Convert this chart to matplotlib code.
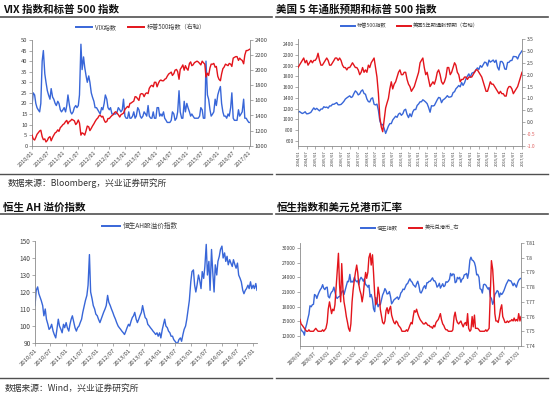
import numpy as np
import pandas as pd
import matplotlib
matplotlib.use('Agg')
import matplotlib.pyplot as plt
import matplotlib.dates as mdates
from matplotlib.lines import Line2D
from matplotlib.ticker import FuncFormatter, MultipleLocator

plt.rcParams['font.family'] = ['Noto Sans CJK SC', 'DejaVu Sans']
plt.rcParams['axes.unicode_minus'] = False

BLUE = '#3866d8'
RED = '#e3141b'
TXT = '#404040'

# ---------------- Panel A: VIX & S&P 500 (semimonthly, 2010/01 - 2017/01) ----------------
vix = [
    19, 25, 24, 20, 18, 17, 16, 20, 40, 45, 34, 30, 26, 24, 22, 27, 23, 22, 20, 19, 21, 20, 17, 16,   # 2010
    17, 18, 16, 19, 24, 20, 16, 15, 16, 18, 19, 18, 19, 24, 48, 36, 42, 37, 33, 30, 33, 30, 25, 23,   # 2011
    21, 18, 18, 17, 16, 15, 18, 17, 20, 24, 22, 18, 17, 18, 15, 15, 15, 15, 16, 18, 17, 16, 17, 22,   # 2012
    14, 13, 13, 16, 13, 13, 14, 16, 13, 14, 18, 17, 14, 13, 14, 16, 15, 14, 19, 14, 13, 13, 16, 13,   # 2013
    13, 18, 18, 14, 15, 14, 16, 13, 12, 11, 11, 11, 12, 16, 15, 12, 13, 16, 26, 16, 13, 13, 21, 16,   # 2014
    20, 18, 16, 14, 15, 14, 13, 13, 13, 13, 14, 18, 17, 13, 13, 40, 24, 22, 17, 14, 15, 16, 22, 19,   # 2015
    24, 26, 28, 20, 16, 14, 14, 13, 15, 14, 18, 25, 13, 12, 12, 12, 17, 14, 15, 16, 22, 13, 13, 12,   # 2016
    11, 11,                                                                                           # 2017
]
spx_a = [
    1140, 1090, 1075, 1110, 1150, 1170, 1195, 1205, 1120, 1080, 1090, 1050, 1070, 1105, 1120, 1065, 1110, 1140, 1170, 1180, 1210, 1190, 1240, 1255,
    1280, 1290, 1320, 1335, 1290, 1320, 1330, 1350, 1340, 1330, 1280, 1300, 1340, 1300, 1140, 1170, 1160, 1140, 1200, 1260, 1250, 1200, 1230, 1260,
    1290, 1320, 1350, 1365, 1395, 1405, 1380, 1390, 1340, 1310, 1320, 1360, 1360, 1380, 1400, 1410, 1440, 1450, 1430, 1410, 1380, 1410, 1420, 1430,
    1480, 1500, 1520, 1505, 1560, 1565, 1580, 1590, 1650, 1645, 1620, 1600, 1680, 1690, 1685, 1650, 1690, 1700, 1690, 1760, 1790, 1800, 1780, 1840,
    1840, 1780, 1830, 1860, 1870, 1860, 1860, 1880, 1890, 1920, 1950, 1960, 1975, 1930, 1955, 2000, 2010, 1980, 1880, 2010, 2040, 2070, 2000, 2060,
    2020, 2000, 2090, 2110, 2060, 2070, 2100, 2110, 2120, 2110, 2090, 2070, 2120, 2100, 2080, 1910, 1960, 1930, 2030, 2080, 2080, 2090, 2040, 2050,
    1920, 1880, 1860, 1950, 2020, 2040, 2080, 2070, 2060, 2090, 2080, 2050, 2160, 2170, 2180, 2180, 2130, 2160, 2140, 2130, 2085, 2200, 2260, 2260,
    2270, 2280,
]

# ---------------- Panel B: S&P 500 & US 5Y breakeven (monthly, 2004/01 - 2017/01) ----------------
spx_b = [
    1130, 1145, 1125, 1107, 1120, 1140, 1101, 1104, 1115, 1130, 1174, 1212,
    1181, 1204, 1180, 1157, 1191, 1191, 1234, 1220, 1228, 1207, 1249, 1248,
    1280, 1280, 1295, 1311, 1270, 1270, 1277, 1304, 1336, 1378, 1400, 1418,
    1438, 1407, 1421, 1482, 1530, 1503, 1455, 1474, 1527, 1549, 1481, 1468,
    1378, 1330, 1323, 1386, 1400, 1280, 1267, 1283, 1165, 969, 896, 903,
    826, 735, 798, 873, 919, 919, 987, 1021, 1057, 1036, 1096, 1115,
    1074, 1104, 1169, 1187, 1089, 1031, 1102, 1049, 1141, 1183, 1181, 1258,
    1286, 1327, 1326, 1364, 1345, 1321, 1292, 1219, 1131, 1253, 1247, 1258,
    1312, 1366, 1408, 1398, 1310, 1362, 1379, 1406, 1441, 1412, 1416, 1426,
    1498, 1515, 1569, 1598, 1631, 1606, 1686, 1633, 1682, 1757, 1806, 1848,
    1783, 1859, 1872, 1884, 1924, 1960, 1931, 2003, 1972, 2018, 2068, 2059,
    1995, 2105, 2068, 2086, 2107, 2063, 2104, 1972, 1920, 2079, 2080, 2044,
    1940, 1932, 2060, 2065, 2097, 2099, 2174, 2171, 2168, 2126, 2199, 2239,
    2279,
]
bei5 = [
    2.3, 2.4, 2.5, 2.6, 2.7, 2.5, 2.6, 2.4, 2.5, 2.6, 2.5, 2.6,
    2.6, 2.7, 2.9, 2.6, 2.4, 2.4, 2.5, 2.6, 2.7, 2.6, 2.4, 2.4,
    2.5, 2.6, 2.7, 2.7, 2.6, 2.7, 2.6, 2.4, 2.3, 2.3, 2.2, 2.3,
    2.3, 2.4, 2.5, 2.4, 2.3, 2.3, 2.2, 2.0, 2.1, 2.3, 2.1, 2.2,
    2.1, 2.4, 2.3, 2.5, 2.6, 2.7, 2.3, 1.9, 1.2, 0.2, -0.2, -0.4,
    0.1, 0.6, 0.8, 1.0, 1.4, 1.7, 1.4, 1.6, 1.7, 1.9, 2.1, 2.2,
    2.0, 2.0, 2.1, 2.1, 1.8, 1.6, 1.5, 1.3, 1.4, 1.5, 1.7, 1.9,
    2.1, 2.5, 2.6, 2.7, 2.3, 2.0, 2.1, 1.8, 1.5, 1.6, 1.7, 1.6,
    1.8, 2.1, 2.2, 2.0, 1.7, 1.6, 1.7, 1.9, 2.3, 2.3, 2.0, 2.1,
    2.3, 2.5, 2.4, 2.1, 2.0, 1.7, 1.8, 1.8, 1.9, 1.9, 1.8, 1.9,
    1.9, 1.9, 2.0, 2.1, 2.2, 2.2, 2.1, 2.0, 1.9, 1.7, 1.5, 1.3,
    1.3, 1.5, 1.7, 1.6, 1.6, 1.5, 1.4, 1.3, 1.2, 1.3, 1.2, 1.2,
    1.1, 1.1, 1.4, 1.5, 1.5, 1.4, 1.2, 1.3, 1.4, 1.5, 1.7, 1.9,
    2.1,
]

# ---------------- Panel C: Hang Seng AH premium (semimonthly, 2010/01 - 2017/02) ----------------
ah_premium = [
    112, 121, 123, 119, 117, 115, 112, 106, 110, 104, 101, 98, 99, 101, 97, 95, 93, 98, 104, 100, 98, 96, 101, 99,     # 2010
    102, 99, 97, 101, 104, 106, 102, 99, 97, 99, 100, 102, 104, 108, 112, 115, 118, 124, 142, 120, 116, 112, 110, 107, # 2011
    106, 104, 102, 104, 106, 108, 110, 112, 118, 114, 112, 110, 108, 106, 104, 102, 100, 99, 98, 97, 96, 95, 97, 99,   # 2012
    101, 100, 103, 105, 106, 108, 104, 102, 104, 106, 108, 112, 108, 105, 104, 101, 100, 99, 98, 97, 96, 95, 96, 94,   # 2013
    96, 93, 98, 101, 104, 100, 99, 97, 96, 94, 94, 92, 91, 90, 90, 92, 93, 91, 95, 98, 100, 104, 110, 115,            # 2014
    126, 132, 133, 124, 120, 124, 130, 127, 122, 132, 128, 135, 148, 130, 138, 121, 145, 132, 120, 136, 130, 138, 141, 145,  # 2015
    147, 140, 143, 138, 141, 136, 139, 137, 135, 139, 136, 134, 137, 130, 128, 126, 121, 119, 121, 122, 124, 122, 126, 122,  # 2016
    124, 122, 125, 121,                                                                                                # 2017
]

# ---------------- Panel D: Hang Seng index & USD/HKD (semimonthly, 2009/01 - 2017/02) ----------------
hsi = [
    14000, 13300, 13000, 12800, 12200, 13600, 14500, 15500, 16500, 18200, 18000, 18400, 18500, 20500, 20300, 19700, 20500, 21000, 21500, 21800, 22500, 21800, 21500, 21900,
    22000, 20100, 19800, 20600, 21000, 21200, 22000, 21100, 20000, 19700, 20000, 20100, 20300, 21000, 21300, 20500, 21500, 22400, 23200, 23100, 24600, 23000, 23200, 23000,
    24000, 23400, 23100, 23300, 22500, 23500, 24000, 23700, 23200, 23700, 22500, 22400, 22000, 22400, 20000, 20500, 19500, 17600, 17000, 19900, 19000, 18000, 18500, 18400,
    19500, 20400, 21000, 21700, 21300, 20600, 20700, 21100, 20000, 18600, 19000, 19400, 19600, 19800, 20000, 19500, 20000, 20800, 21100, 21600, 21500, 22000, 22600, 22700,
    23300, 23700, 23200, 23000, 22500, 22300, 22000, 22700, 23200, 22400, 21000, 20800, 21300, 21900, 22300, 21700, 22900, 22900, 23200, 23200, 23600, 23900, 23300, 23300,
    22800, 22000, 22300, 22800, 21800, 22200, 22700, 22100, 22300, 23100, 23000, 23200, 23600, 24800, 24300, 24700, 24600, 22900, 23100, 24000, 23700, 24000, 23000, 23600,
    23800, 24500, 24600, 24800, 23800, 24900, 27500, 28100, 27500, 27400, 27000, 26200, 24500, 24600, 24000, 21700, 21500, 20800, 22500, 22600, 22400, 22000, 21600, 21900,
    20000, 19700, 18500, 19100, 20500, 20800, 21300, 21100, 20000, 20800, 20500, 20800, 21300, 21900, 22600, 23000, 23500, 23300, 23300, 22900, 22300, 22800, 22400, 22000,
    22900, 23400, 23700, 23800,
]
usdhkd = [
    7.758, 7.755, 7.754, 7.753, 7.752, 7.751, 7.750, 7.750, 7.751, 7.750, 7.750, 7.750, 7.750, 7.751, 7.752, 7.751, 7.750, 7.750, 7.750, 7.750, 7.751, 7.750, 7.751, 7.752,
    7.756, 7.765, 7.770, 7.766, 7.762, 7.765, 7.764, 7.768, 7.780, 7.790, 7.803, 7.782, 7.770, 7.796, 7.778, 7.770, 7.765, 7.760, 7.756, 7.752, 7.750, 7.755, 7.770, 7.778,
    7.785, 7.790, 7.795, 7.790, 7.782, 7.778, 7.775, 7.770, 7.775, 7.783, 7.790, 7.786, 7.790, 7.800, 7.803, 7.795, 7.802, 7.790, 7.775, 7.768, 7.770, 7.780, 7.775, 7.765,
    7.760, 7.756, 7.755, 7.757, 7.764, 7.766, 7.762, 7.765, 7.767, 7.761, 7.758, 7.756, 7.755, 7.757, 7.756, 7.754, 7.753, 7.752, 7.750, 7.750, 7.750, 7.750, 7.751, 7.750,
    7.752, 7.754, 7.756, 7.755, 7.760, 7.764, 7.763, 7.765, 7.762, 7.760, 7.758, 7.757, 7.756, 7.755, 7.755, 7.756, 7.755, 7.754, 7.754, 7.753, 7.753, 7.752, 7.754, 7.753,
    7.756, 7.757, 7.758, 7.760, 7.762, 7.758, 7.755, 7.754, 7.752, 7.751, 7.751, 7.750, 7.750, 7.750, 7.750, 7.751, 7.760, 7.763, 7.758, 7.756, 7.755, 7.756, 7.757, 7.755,
    7.753, 7.755, 7.756, 7.754, 7.762, 7.752, 7.750, 7.751, 7.760, 7.753, 7.761, 7.752, 7.752, 7.752, 7.751, 7.750, 7.750, 7.750, 7.750, 7.750, 7.751, 7.750, 7.751, 7.752,
    7.778, 7.798, 7.792, 7.780, 7.762, 7.757, 7.757, 7.756, 7.760, 7.765, 7.768, 7.760, 7.758, 7.756, 7.756, 7.757, 7.756, 7.757, 7.757, 7.758, 7.757, 7.759, 7.757, 7.758,
    7.757, 7.762, 7.757, 7.760,
]

dates_a = pd.date_range('2010-01-01', periods=len(vix), freq='SMS')
dates_b = pd.date_range('2004-01-01', periods=len(spx_b), freq='MS')
dates_c = pd.date_range('2010-01-01', periods=len(ah_premium), freq='SMS')
dates_d = pd.date_range('2009-01-01', periods=len(hsi), freq='SMS')

W, H = 550, 393
fig = plt.figure(figsize=(W / 100, H / 100), dpi=100)


def rect(l, r, t, b):
    return [l / W, 1 - b / H, (r - l) / W, (b - t) / H]


def base_style(ax, labelsize=4.2):
    ax.spines['top'].set_visible(False)
    for s in ('left', 'bottom', 'right'):
        ax.spines[s].set_color('#8a8a8a')
        ax.spines[s].set_linewidth(0.6)
    ax.tick_params(axis='both', labelsize=labelsize, length=2, width=0.5,
                   color='#8a8a8a', labelcolor=TXT, pad=1.2)


def date_axis(ax, rot, size):
    ax.xaxis.set_major_locator(mdates.MonthLocator(bymonth=[1, 7]))
    ax.xaxis.set_major_formatter(mdates.DateFormatter('%Y/%m'))
    for lab in ax.get_xticklabels():
        lab.set_rotation(rot)
        lab.set_fontsize(size)
        if rot == 90:
            lab.set_ha('center')
        else:
            lab.set_ha('right')
            lab.set_rotation_mode('anchor')


# ---- Panel A ----
axA = fig.add_axes(rect(32, 250, 40, 145.7))
axA2 = axA.twinx()
axA.plot(dates_a, vix, color=BLUE, lw=1.0)
axA2.plot(dates_a, spx_a, color=RED, lw=1.0)
axA.set_ylim(0, 50)
axA.yaxis.set_major_locator(MultipleLocator(5))
axA2.set_ylim(1000, 2400)
axA2.yaxis.set_major_locator(MultipleLocator(200))
axA.set_xlim(dates_a[0], dates_a[-1])
base_style(axA); base_style(axA2)
axA.spines['right'].set_visible(False)
for s in ('left', 'bottom'):
    axA2.spines[s].set_visible(False)
date_axis(axA, 45, 4.0)

# ---- Panel B ----
axB = fig.add_axes(rect(298, 522, 39, 146))
axB2 = axB.twinx()
axB.plot(dates_b, spx_b, color=BLUE, lw=1.0)
axB2.plot(dates_b, bei5, color=RED, lw=1.0)
axB.set_ylim(500, 2500)
axB.yaxis.set_major_locator(MultipleLocator(200))
axB2.set_ylim(-1.0, 3.5)
axB2.yaxis.set_major_locator(MultipleLocator(0.5))
axB2.yaxis.set_major_formatter(FuncFormatter(lambda v, p: f'{v:.1f}'))
axB.set_xlim(dates_b[0], dates_b[-1])
base_style(axB, 3.6); base_style(axB2, 3.6)
axB.spines['right'].set_visible(False)
for s in ('left', 'bottom'):
    axB2.spines[s].set_visible(False)
date_axis(axB, 90, 3.0)
fig.canvas.draw()
for lab in axB2.get_yticklabels():
    if lab.get_text().startswith('-'):
        lab.set_color('#e06060')

# ---- Panel C ----
axC = fig.add_axes(rect(35, 257, 241, 343))
axC.plot(dates_c, ah_premium, color=BLUE, lw=1.0)
axC.set_ylim(90, 150)
axC.yaxis.set_major_locator(MultipleLocator(10))
axC.set_xlim(dates_c[0], dates_c[-1])
base_style(axC, 4.6)
axC.spines['right'].set_visible(False)
date_axis(axC, 45, 4.3)

# ---- Panel D ----
axD = fig.add_axes(rect(300, 521, 243, 346))
axD2 = axD.twinx()
axD.plot(dates_d, hsi, color=BLUE, lw=1.0)
axD2.plot(dates_d, usdhkd, color=RED, lw=1.0)
axD.set_ylim(10000, 31000)
axD.yaxis.set_major_locator(MultipleLocator(3000))
axD2.set_ylim(7.74, 7.81)
axD2.yaxis.set_major_locator(MultipleLocator(0.01))
axD2.yaxis.set_major_formatter(FuncFormatter(lambda v, p: f'{round(v, 2):g}'))
axD.set_xlim(dates_d[0], dates_d[-1])
base_style(axD, 3.6); base_style(axD2, 3.6)
axD.spines['right'].set_visible(False)
for s in ('left', 'bottom'):
    axD2.spines[s].set_visible(False)
date_axis(axD, 45, 3.4)

# ---- Legends ----
def legend(items, cx, cy, size):
    handles = [Line2D([], [], color=c, lw=1.4) for c, _ in items]
    labels = [t for _, t in items]
    fig.legend(handles, labels, loc='center', bbox_to_anchor=(cx / W, 1 - cy / H),
               ncol=len(items), frameon=False, fontsize=size, handlelength=2.6,
               columnspacing=2.0, handletextpad=0.4, labelcolor=TXT)

legend([(BLUE, 'VIX指数'), (RED, '标普500指数（右轴）')], 141, 27, 4.4)
legend([(BLUE, '标普500指数'), (RED, '美国5年期通胀预期（右轴）')], 410, 26, 3.8)
legend([(BLUE, '恒生AH股溢价指数')], 140, 226, 4.8)
legend([(BLUE, '恒生指数'), (RED, '美元兑港币_右')], 410, 228, 3.8)

# ---- Titles, rules, sources ----
def title(x, y, s):
    fig.text(x / W, 1 - y / H, s, fontsize=7.6, fontweight='bold', color='#111111',
             ha='left', va='center')

def rule(x0, x1, y, lw=1.2):
    fig.add_artist(Line2D([x0 / W, x1 / W], [1 - y / H, 1 - y / H],
                          transform=fig.transFigure, color='#505050', lw=lw))

title(3, 10, 'VIX 指数和标普 500 指数')
title(276, 10, '美国 5 年通胀预期和标普 500 指数')
title(3, 208, '恒生 AH 溢价指数')
title(277, 208, '恒生指数和美元兑港币汇率')

rule(0, 272, 17.3)
rule(276, 548, 17.3)
rule(0, 272, 214)
rule(276, 548, 214)
rule(0, 272, 174, 1.0)
rule(276, 548, 174, 1.0)
rule(0, 272, 378, 1.0)
rule(276, 548, 378, 1.0)

fig.text(8 / W, 1 - 183 / H, '数据来源：Bloomberg，兴业证券研究所', fontsize=6.3,
         color='#333333', ha='left', va='center')
fig.text(5 / W, 1 - 388 / H, '数据来源：Wind，兴业证券研究所', fontsize=6.3,
         color='#333333', ha='left', va='center')

fig.savefig('out.png', dpi=100)
